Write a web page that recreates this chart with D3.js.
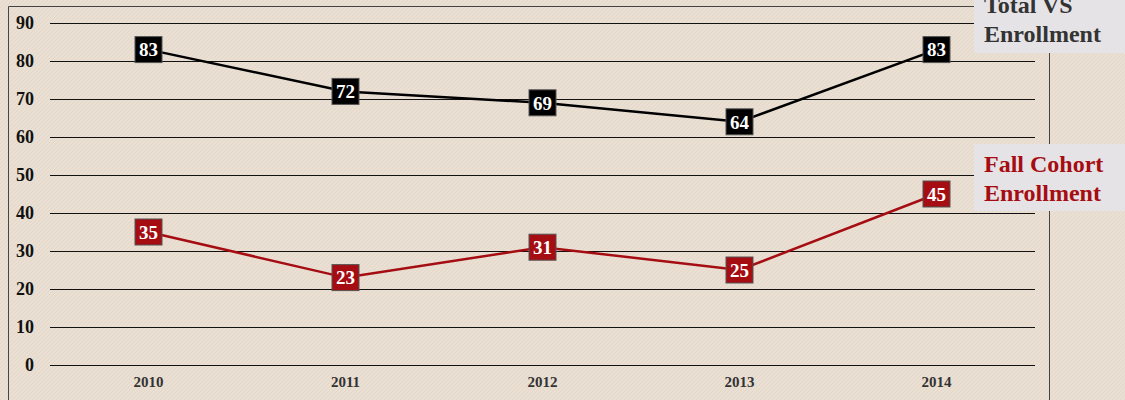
<!DOCTYPE html>
<html>
<head>
<meta charset="utf-8">
<style>
  body { margin: 0; background: #e8ded2; }
  svg { display: block; }
</style>
</head>
<body>
<div id="chart"></div>
<script src="https://d3js.org/d3.v7.min.js"></script>
<script>

var years = ["2010", "2011", "2012", "2013", "2014"]
var totalVS = [83, 72, 69, 64, 83]
var fallCohort = [35, 23, 31, 25, 45]
var yTicks = [0, 10, 20, 30, 40, 50, 60, 70, 80, 90]

var W = 1125, H = 400
var margin = {top: 23, right: 90, bottom: 35, left: 50}
var width = 1035 - margin.left,
    height = 365 - margin.top
var serif = "'Liberation Serif', 'Times New Roman', serif"

var svg = d3.select("#chart")
  .append("svg")
  .attr("width", W)
  .attr("height", H)

// subtle paper texture
var defs = svg.append("defs")
var pat = defs.append("pattern")
  .attr("id", "tex")
  .attr("width", 4).attr("height", 4)
  .attr("patternUnits", "userSpaceOnUse")
pat.append("rect").attr("width", 4).attr("height", 4).attr("fill", "#e9dfd3")
pat.append("path").attr("d", "M0,4 L4,0").attr("stroke", "#e2d6c8").attr("stroke-width", 0.8)
svg.append("rect").attr("width", W).attr("height", H).attr("fill", "url(#tex)")

// frame
svg.append("path")
  .attr("d", "M8.5,400 L8.5,6.5 L1049.5,6.5 L1049.5,400")
  .attr("fill", "none")
  .attr("stroke", "#444")
  .attr("stroke-width", 1)

var g = svg.append("g")
  .attr("transform", "translate(" + margin.left + "," + margin.top + ")")

var x = d3.scaleBand()
  .domain(years)
  .range([0, width])

var y = d3.scaleLinear()
  .domain([0, 90])
  .range([height, 0])

// gridlines
g.selectAll(".grid")
  .data(yTicks)
  .enter().append("line")
  .attr("class", "grid")
  .attr("x1", 0)
  .attr("x2", width)
  .attr("y1", d => Math.round(y(d)) + 0.5)
  .attr("y2", d => Math.round(y(d)) + 0.5)
  .attr("stroke", "#111")
  .attr("stroke-width", 1)

var yAxis = d3.axisLeft(y).tickValues(yTicks).tickSize(0).tickPadding(16)
g.append("g")
  .attr("class", "y axis")
  .call(yAxis)
  .call(s => s.select(".domain").remove())
  .selectAll("text")
  .attr("font-family", serif)
  .attr("font-weight", "bold")
  .attr("font-size", 18)
  .attr("fill", "#111")

var xAxis = d3.axisBottom(x).tickSize(0).tickPadding(11)
g.append("g")
  .attr("class", "x axis")
  .attr("transform", "translate(0," + height + ")")
  .call(xAxis)
  .call(s => s.select(".domain").remove())
  .selectAll("text")
  .attr("font-family", serif)
  .attr("font-weight", "bold")
  .attr("font-size", 15)
  .attr("fill", "#333")

var series = [
  {name: "total", values: totalVS, color: "#000000", box: "#000000"},
  {name: "fall", values: fallCohort, color: "#a50d12", box: "#a50d12"}
]

var line = d3.line()
  .x((d, i) => x(years[i]) + x.bandwidth() / 2)
  .y(d => y(d))

series.forEach(function(s){
  g.append("path")
    .datum(s.values)
    .attr("fill", "none")
    .attr("stroke", s.color)
    .attr("stroke-width", 2.5)
    .attr("d", line)

  var lab = g.selectAll(".lab." + s.name)
    .data(s.values)
    .enter().append("g")
    .attr("class", "lab " + s.name)
    .attr("transform", (d, i) => "translate(" + (x(years[i]) + x.bandwidth() / 2) + "," + y(d) + ")")

  lab.append("rect")
    .attr("x", -13.5)
    .attr("y", -13)
    .attr("width", 27)
    .attr("height", 26)
    .attr("fill", s.box)
    .attr("stroke", "#555")
    .attr("stroke-width", 1)

  lab.append("text")
    .attr("text-anchor", "middle")
    .attr("dy", "0.36em")
    .attr("font-family", serif)
    .attr("font-weight", "bold")
    .attr("font-size", 19)
    .attr("fill", "#fff")
    .text(d => d)
})

// legends
var legends = [
  {lines: ["Total VS", "Enrollment"], color: "#333333", y0: -8, h: 61, ty: 13},
  {lines: ["Fall Cohort", "Enrollment"], color: "#a50d12", y0: 144, h: 67, ty: 172}
]
legends.forEach(function(l){
  svg.append("rect")
    .attr("x", 974)
    .attr("y", l.y0)
    .attr("width", 160)
    .attr("height", l.h)
    .attr("fill", "#e6e3e6")
  l.lines.forEach(function(t, i){
    svg.append("text")
      .attr("x", 984)
      .attr("y", l.ty + i * 29)
      .attr("font-family", serif)
      .attr("font-weight", "bold")
      .attr("font-size", 24)
      .attr("fill", l.color)
      .text(t)
  })
})

</script>
</body>
</html>
